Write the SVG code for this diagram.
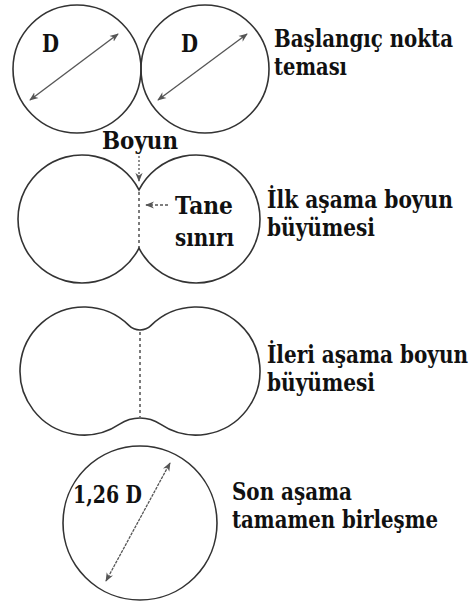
<svg xmlns="http://www.w3.org/2000/svg" width="471" height="605" viewBox="0 0 471 605">
<defs>
<marker id="ah" viewBox="0 0 10 10" refX="9" refY="5" markerWidth="9" markerHeight="9" orient="auto-start-reverse" markerUnits="userSpaceOnUse">
<path d="M0,1 L10,5 L0,9 L3,5 Z" fill="#555"/>
</marker>
<style>
.shape{fill:none;stroke:#333;stroke-width:1.6}
.arr{stroke:#555;stroke-width:1.3;fill:none}
.dash{stroke:#444;stroke-width:1.4;stroke-dasharray:3 3;fill:none}
.t{font-family:'DejaVu Serif',serif;font-weight:bold;font-size:24px;fill:#111}
</style>
</defs>
<rect width="471" height="605" fill="#fff"/>
<g id="stage1">
<circle class="shape" cx="77" cy="69" r="64"/>
<circle class="shape" cx="205" cy="69" r="64"/>
<text class="t" x="42" y="52" font-size="21" textLength="17" lengthAdjust="spacingAndGlyphs">D</text>
<text class="t" x="181" y="52" font-size="21" textLength="17" lengthAdjust="spacingAndGlyphs">D</text>
<text class="t" x="274" y="47" textLength="179" lengthAdjust="spacingAndGlyphs">Başlangıç nokta</text>
<text class="t" x="274" y="75" textLength="73" lengthAdjust="spacingAndGlyphs">teması</text>
</g>
<g id="stage2">
<path class="shape" d="M139,189.9 A64,64 0 1 0 139,248.1 A64,64 0 1 0 139,189.9 Z"/>
<line class="dash" x1="139" y1="192" x2="139" y2="248"/>
<text class="t" x="102" y="149" textLength="76" lengthAdjust="spacingAndGlyphs">Boyun</text>
<text class="t" x="175" y="214" textLength="58" lengthAdjust="spacingAndGlyphs">Tane</text>
<text class="t" x="175" y="246" textLength="59" lengthAdjust="spacingAndGlyphs">sınırı</text>
<text class="t" x="267" y="208" textLength="186" lengthAdjust="spacingAndGlyphs">İlk aşama boyun</text>
<text class="t" x="267" y="236" textLength="108" lengthAdjust="spacingAndGlyphs">büyümesi</text>
</g>
<g id="stage3">
<path class="shape" d="M128.9,325.4 A64,64 0 1 0 119.6,424.2 A36.7,36.7 0 0 1 160.4,424.2 A64,64 0 1 0 151.1,325.4 A15.7,15.7 0 0 1 128.9,325.4 Z"/>
<line class="dash" x1="140" y1="332" x2="140" y2="417"/>
<text class="t" x="267" y="363" textLength="201" lengthAdjust="spacingAndGlyphs">İleri aşama boyun</text>
<text class="t" x="267" y="391" textLength="108" lengthAdjust="spacingAndGlyphs">büyümesi</text>
</g>
<g id="stage4">
<circle class="shape" cx="140" cy="523" r="77"/>
<text class="t" x="73" y="503" font-size="23" textLength="69" lengthAdjust="spacingAndGlyphs">1,26 D</text>
<text class="t" x="232" y="500" textLength="120" lengthAdjust="spacingAndGlyphs">Son aşama</text>
<text class="t" x="232" y="528" textLength="206" lengthAdjust="spacingAndGlyphs">tamamen birleşme</text>
</g>
<g id="connectors">
<line class="arr" x1="30" y1="100" x2="118" y2="34" marker-start="url(#ah)" marker-end="url(#ah)"/>
<line class="arr" x1="158" y1="100" x2="247" y2="34" marker-start="url(#ah)" marker-end="url(#ah)"/>
<line class="arr" x1="139" y1="156" x2="139" y2="181" stroke-dasharray="2 2" marker-end="url(#ah)"/>
<line class="arr" x1="168" y1="205" x2="146" y2="205" stroke-dasharray="3 2" marker-end="url(#ah)"/>
<line class="arr" x1="106" y1="581" x2="170" y2="463" stroke-dasharray="3 1" marker-start="url(#ah)" marker-end="url(#ah)"/>
</g>
</svg>
